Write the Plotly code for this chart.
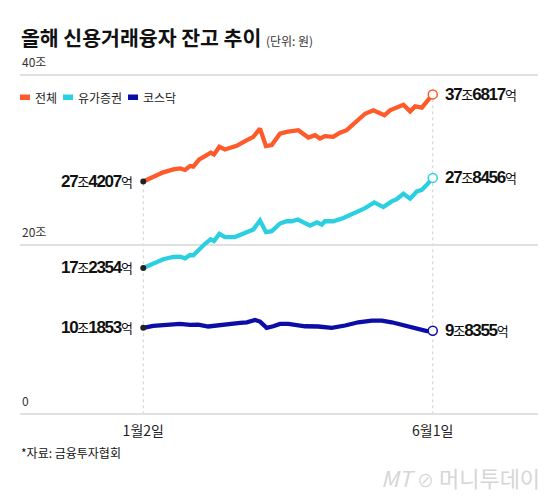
import plotly.graph_objects as go

# ---------------- data ----------------
title_main = "올해 신용거래융자 잔고 추이"
title_unit = "(단위: 원)"
source_text = "*자료: 금융투자협회"
watermark = "머니투데이"
series_names = ["전체", "유가증권", "코스닥"]
series_colors = ["#FF5A2A", "#2BD0E0", "#0C0CA6"]
x_tick_labels = ["1월2일", "6월1일"]
y_tick_vals = [0, 20, 40]
y_tick_text = ["0", "20조", "40조"]

# exact start / end values in 억원
start_eok = [274207, 172354, 101853]
end_eok = [376817, 278456, 98355]

# days since Jan 2 (x) and balance in 조원 (y)
days_total = [0, 5.2, 10.4, 15.7, 19.2, 21.8, 24.4, 26.1, 29.2, 32.2, 35.2, 36.9, 39.7, 42.6,
              45.2, 48.7, 53.1, 57.4, 60.9, 64.0, 67.0, 71.3, 74.8, 77.4, 80.9, 86.1, 89.6,
              92.2, 94.8, 99.1, 102.6, 106.1, 110.5, 115.7, 120.0, 122.6, 125.8, 128.7,
              132.2, 135.7, 139.2, 141.8, 145.3, 148.7, 151]
vals_total = [27.4207, 28.00, 28.50, 28.85, 28.97, 28.78, 29.25, 29.17, 30.02, 30.42, 30.81,
              30.61, 31.51, 31.19, 31.39, 31.63, 32.18, 32.68, 33.65, 31.59, 31.71, 33.06,
              33.26, 33.35, 33.46, 32.60, 32.88, 32.48, 32.76, 32.68, 33.18, 33.46, 34.43,
              35.40, 35.80, 35.49, 35.22, 35.80, 36.07, 36.46, 35.68, 36.27, 36.11, 36.97,
              37.6817]

days_kospi = [0, 5.2, 10.4, 15.7, 19.2, 21.8, 24.4, 26.1, 29.6, 32.2, 35.2, 36.9, 39.7, 42.6,
              47.8, 52.2, 57.4, 60.9, 64.0, 67.0, 71.3, 74.8, 77.4, 80.6, 83.5, 87.0, 90.5,
              93.1, 94.8, 99.1, 104.4, 110.5, 115.7, 120.5, 122.6, 125.2, 129.6, 132.2,
              135.7, 139.2, 142.7, 145.3, 147.9, 151]
vals_kospi = [17.2354, 17.79, 18.26, 18.53, 18.56, 18.37, 18.76, 18.73, 19.61, 20.08, 20.60,
              20.40, 21.25, 20.87, 20.87, 21.30, 21.77, 22.82, 21.45, 21.57, 22.47, 22.74,
              22.74, 22.94, 22.62, 22.23, 22.62, 22.35, 22.74, 22.74, 23.12, 23.71, 24.29,
              24.96, 24.69, 24.41, 25.08, 25.35, 25.98, 25.39, 26.25, 26.44, 27.03, 27.8456]

days_kosdaq = [0, 5.2, 12.2, 19.2, 24.4, 28.7, 33.9, 40.0, 45.2, 50.5, 54.0, 58.3, 60.9, 64.4,
               67.8, 71.3, 75.7, 79.2, 84.4, 91.3, 98.3, 105.3, 112.2, 119.2, 124.4, 129.6,
               134.8, 140.1, 144.4, 147.9, 151]
vals_kosdaq = [10.1853, 10.42, 10.54, 10.65, 10.54, 10.57, 10.34, 10.54, 10.65, 10.77, 10.84,
               11.12, 10.92, 10.19, 10.37, 10.65, 10.65, 10.57, 10.37, 10.34, 10.19, 10.46,
               10.84, 11.04, 11.04, 10.84, 10.54, 10.19, 9.87, 9.79, 9.8355]

all_days = [days_total, days_kospi, days_kosdaq]
all_vals = [vals_total, vals_kospi, vals_kosdaq]

# ---------------- layout geometry (pixels) ----------------
W, H = 560, 497
PL, PR, PT, PB = 20, 538, 73, 416
X_RANGE = [-64.3, 205.9]
Y_RANGE = [-0.2, 40.2]

def px_x(x):
    return (x - PL) / (PR - PL)

def px_y(y):
    return (PB - y) / (PB - PT)

KR = "Noto Sans CJK KR"
NUM = "Liberation Sans, Arial"

def fmt_label(eok):
    jo, rest = divmod(eok, 10000)
    num = "<span style='letter-spacing:-1.3px;font-weight:bold'>"
    unit = f"<span style='font-family:{KR};font-size:13px;font-weight:normal;letter-spacing:-1px'>"
    return f"{num}{jo}</span>{unit}조</span>{num}{rest}</span>{unit}억</span>"

fig = go.Figure()

# dotted reference lines at start and end dates
fig.add_shape(type="line", x0=days_total[0], x1=days_total[0], y0=0, y1=vals_total[0],
              xref="x", yref="y", line=dict(color="#cfcfcf", width=1, dash="dot"), layer="below")
fig.add_shape(type="line", x0=days_total[-1], x1=days_total[-1], y0=0, y1=vals_total[-1],
              xref="x", yref="y", line=dict(color="#cfcfcf", width=1, dash="dot"), layer="below")

for name, color, d, v in zip(series_names, series_colors, all_days, all_vals):
    fig.add_trace(go.Scatter(x=d, y=v, mode="lines", name=name,
                             line=dict(color=color, width=4.3, shape="linear"),
                             showlegend=False, hoverinfo="skip"))

for name, color, d, v, s, e in zip(series_names, series_colors, all_days, all_vals, start_eok, end_eok):
    fig.add_trace(go.Scatter(x=[d[0]], y=[v[0]], mode="markers",
                             marker=dict(color="#222222", size=6),
                             showlegend=False, hoverinfo="skip"))
    fig.add_trace(go.Scatter(x=[d[-1]], y=[v[-1]], mode="markers",
                             marker=dict(color="white", size=9, line=dict(color=color, width=1.5)),
                             showlegend=False, hoverinfo="skip"))
    fig.add_annotation(x=d[0], y=v[0], xref="x", yref="y", text=fmt_label(s),
                       showarrow=False, xanchor="right", yanchor="middle", xshift=-9,
                       font=dict(family=NUM, size=17, color="#111111"))
    fig.add_annotation(x=d[-1], y=v[-1], xref="x", yref="y", text=fmt_label(e),
                       showarrow=False, xanchor="left", yanchor="middle", xshift=10,
                       font=dict(family=NUM, size=17, color="#111111"))

# y-axis labels above gridlines
for val, txt in zip(y_tick_vals, y_tick_text):
    fig.add_annotation(x=0, y=val, xref="paper", yref="y", text=txt, showarrow=False,
                       xanchor="left", yanchor="bottom", yshift=3,
                       font=dict(family=KR, size=12, color="#333333"))

# title
fig.add_annotation(x=px_x(19), y=px_y(37), xref="paper", yref="paper",
                   text=f"<b>{title_main}</b> <span style='font-size:12px;color:#333'>{title_unit}</span>",
                   showarrow=False, xanchor="left", yanchor="middle",
                   font=dict(family=KR, size=20.5, color="#111111"))

# legend (manual)
leg_x = [20, 63, 128]
for lx, name, color in zip(leg_x, series_names, series_colors):
    fig.add_shape(type="rect", xref="paper", yref="paper",
                  x0=px_x(lx), x1=px_x(lx + 10), y0=px_y(100), y1=px_y(94.5),
                  fillcolor=color, line=dict(width=0))
    fig.add_annotation(x=px_x(lx + 13), y=px_y(97.5), xref="paper", yref="paper", text=name,
                       showarrow=False, xanchor="left", yanchor="middle",
                       font=dict(family=KR, size=12, color="#222222"))

# source
fig.add_annotation(x=px_x(19), y=px_y(452), xref="paper", yref="paper", text=source_text,
                   showarrow=False, xanchor="left", yanchor="middle",
                   font=dict(family=KR, size=12, color="#111111"))
# watermark
fig.add_annotation(x=px_x(542), y=px_y(477), xref="paper", yref="paper",
                   text=f"<i>MT</i> <span style='font-size:17px'>⊘</span> {watermark}",
                   showarrow=False, xanchor="right", yanchor="middle",
                   font=dict(family=KR, size=22, color="#d6d6d6"))

fig.update_layout(
    width=W, height=H,
    margin=dict(l=PL, r=W - PR, t=PT, b=H - PB, pad=0),
    paper_bgcolor="white", plot_bgcolor="white",
    showlegend=False,
    xaxis=dict(range=X_RANGE, showgrid=False, zeroline=False, showline=False,
               tickvals=[days_total[0], days_total[-1]], ticktext=x_tick_labels,
               ticks="", ticklabelstandoff=5,
               tickfont=dict(family=KR, size=14, color="#222222"),
               fixedrange=True),
    yaxis=dict(range=Y_RANGE, tickvals=y_tick_vals, showticklabels=False,
               showgrid=True, gridcolor="#e0e0e0", gridwidth=1.5, zeroline=False,
               showline=False, fixedrange=True),
)

fig.write_html("out.html")
